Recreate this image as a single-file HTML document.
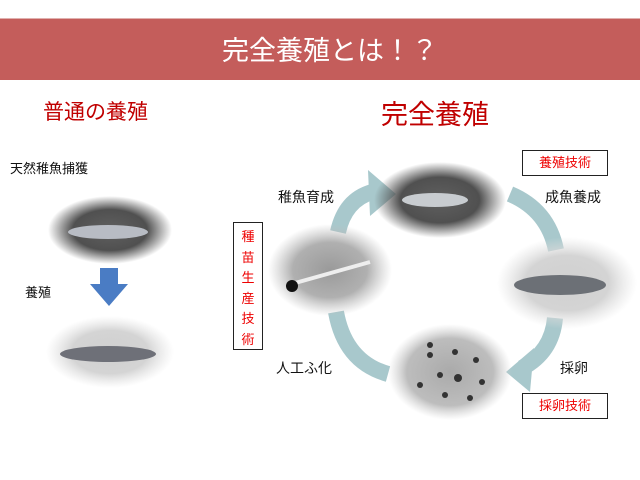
<!DOCTYPE html>
<html><head><meta charset="utf-8"><style>
body{margin:0;width:640px;height:480px;background:#fff;position:relative;overflow:hidden;font-family:"Liberation Sans","Noto Sans CJK JP",sans-serif}
.a{position:absolute;white-space:nowrap}
.box{position:absolute;border:1.5px solid #222;background:#fff;color:#e00;font-size:13px;text-align:center}
.e{position:absolute;border-radius:50%}
</style></head><body>
<div class="a" style="left:0;top:18px;width:640px;height:61px;background:#c45d5b;border-top:1px solid #e0b0ae"></div>
<div class="a" style="left:0;top:29px;width:660px;text-align:center;color:#fff;font-size:27px">完全養殖とは！？</div>
<div class="a" style="left:43px;top:96px;color:#c00000;font-size:21px">普通の養殖</div>
<div class="a" style="left:381px;top:93px;color:#c00000;font-size:27px">完全養殖</div>
<div class="a" style="left:10px;top:158px;font-size:13px;color:#111">天然稚魚捕獲</div>
<div class="a" style="left:25px;top:282px;font-size:13px;color:#111">養殖</div>
<svg class="a" style="left:0;top:0" width="640" height="480">
<defs>
<radialGradient id="dk"><stop offset="0" stop-color="#606060"/><stop offset="0.6" stop-color="#505050"/><stop offset="1" stop-color="#505050" stop-opacity="0"/></radialGradient>
<radialGradient id="lt"><stop offset="0" stop-color="#d0d0d0"/><stop offset="0.6" stop-color="#d4d4d4"/><stop offset="1" stop-color="#e0e0e0" stop-opacity="0"/></radialGradient>
<radialGradient id="md"><stop offset="0" stop-color="#9a9a9a"/><stop offset="0.6" stop-color="#b0b0b0"/><stop offset="1" stop-color="#c0c0c0" stop-opacity="0"/></radialGradient>
<radialGradient id="eg"><stop offset="0" stop-color="#aaa"/><stop offset="0.7" stop-color="#bdbdbd"/><stop offset="1" stop-color="#d0d0d0" stop-opacity="0"/></radialGradient>
</defs>
<ellipse cx="110" cy="230" rx="62" ry="34" fill="url(#dk)"/>
<ellipse cx="108" cy="232" rx="40" ry="7" fill="#b8bcc4"/>
<ellipse cx="110" cy="352" rx="64" ry="36" fill="url(#lt)"/>
<ellipse cx="108" cy="354" rx="48" ry="8" fill="#6e7078"/>
<path d="M100 268h18v16h10l-19 22-19-22h10z" fill="#4a7cc4"/>
<g fill="none" stroke="#a8c8cc" stroke-width="16">
<path d="M338 232 Q345 200 372 192"/>
<path d="M510 194 Q548 210 556 250"/>
<path d="M555 318 Q552 352 522 368"/>
<path d="M388 374 Q345 362 336 312"/>
</g>
<path d="M368 170 L396 194 L370 216 Z" fill="#a8c8cc"/>
<path d="M506 372 L534 348 L530 392 Z" fill="#a8c8cc"/>
<ellipse cx="440" cy="200" rx="66" ry="38" fill="url(#dk)"/>
<ellipse cx="435" cy="200" rx="33" ry="7" fill="#c8ccd0"/>
<ellipse cx="330" cy="270" rx="62" ry="46" fill="url(#md)"/>
<path d="M288 285 L370 262" stroke="#eee" stroke-width="4"/>
<circle cx="292" cy="286" r="6" fill="#111"/>
<ellipse cx="567" cy="283" rx="70" ry="46" fill="url(#lt)"/>
<ellipse cx="560" cy="285" rx="46" ry="10" fill="#6c7076"/>
<ellipse cx="450" cy="372" rx="62" ry="48" fill="url(#eg)"/>
<g fill="#333"><circle cx="430" cy="355" r="3"/><circle cx="455" cy="352" r="3"/><circle cx="476" cy="360" r="3"/><circle cx="440" cy="375" r="3"/><circle cx="458" cy="378" r="4"/><circle cx="482" cy="382" r="3"/><circle cx="420" cy="385" r="3"/><circle cx="445" cy="395" r="3"/><circle cx="470" cy="398" r="3"/><circle cx="430" cy="345" r="3"/></g>
</svg>
<div class="a" style="left:278px;top:187px;font-size:14px;color:#111">稚魚育成</div>
<div class="a" style="left:545px;top:187px;font-size:14px;color:#111">成魚養成</div>
<div class="a" style="left:276px;top:358px;font-size:14px;color:#111">人工ふ化</div>
<div class="a" style="left:560px;top:358px;font-size:14px;color:#111">採卵</div>
<div class="box" style="left:522px;top:150px;width:84px;height:24px;line-height:24px">養殖技術</div>
<div class="box" style="left:522px;top:393px;width:84px;height:24px;line-height:24px">採卵技術</div>
<div class="box" style="left:233px;top:222px;width:30px;height:128px;line-height:20.5px;padding-top:4px;box-sizing:border-box">種<br>苗<br>生<br>産<br>技<br>術</div>
</body></html>
